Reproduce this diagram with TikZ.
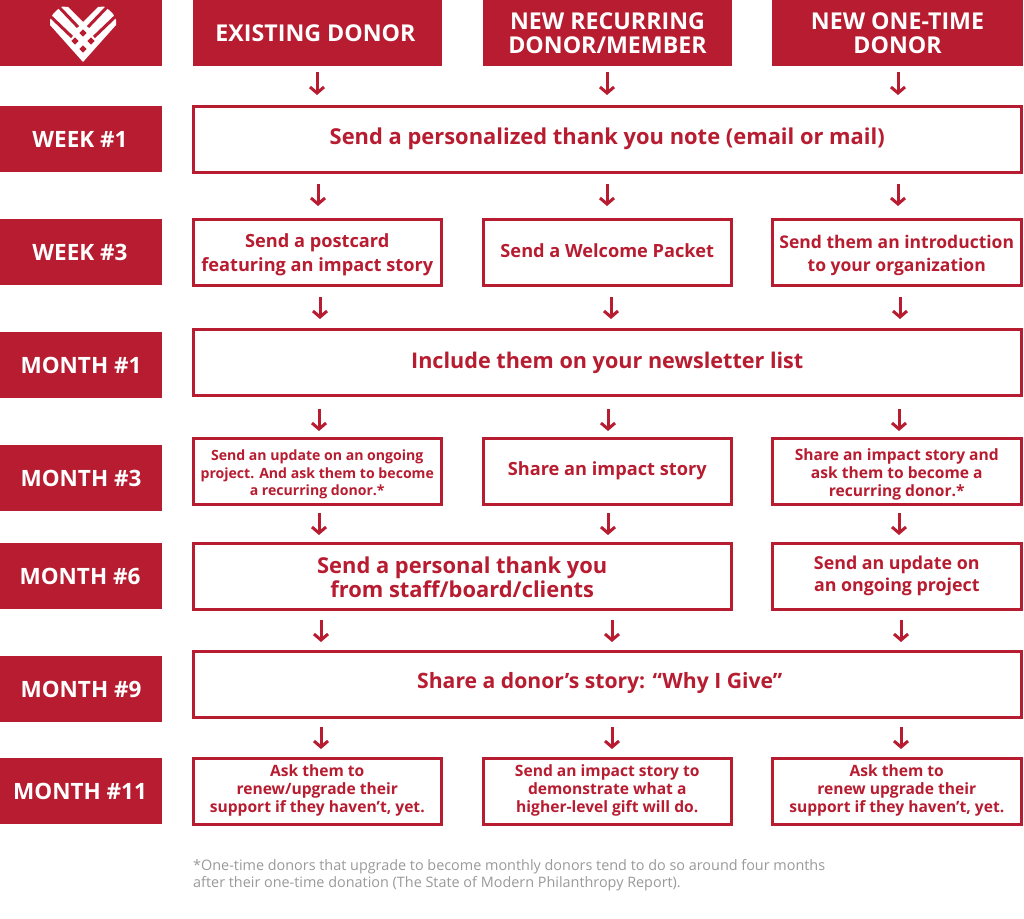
\documentclass[tikz,border=0pt]{standalone}
\usepackage{fontspec}
\setmainfont{Open Sans}
\usetikzlibrary{arrows.meta,calc}
\definecolor{gbred}{HTML}{B71C30}
\definecolor{foot}{HTML}{9A9A9A}
\tikzset{
  x=1pt,y=-1pt,
  band/.style={fill=gbred,draw=none,inner sep=0,outer sep=0,text=white,font=\fontsize{22.5}{23}\selectfont\bfseries,align=center},
  stepbox/.style={draw=none,inner sep=0,outer sep=0,text=gbred,align=center},
  frame/.style={draw=gbred,line width=3pt,fill=white},
  big/.style={font=\fontsize{21.9}{24}\selectfont\bfseries},
  bigb/.style={font=\fontsize{21.6}{24}\selectfont\bfseries},
  bigc/.style={font=\fontsize{21.15}{24}\selectfont\bfseries},
  mid/.style={font=\fontsize{18.2}{23.5}\selectfont\bfseries},
  midtight/.style={font=\fontsize{17.5}{23}\selectfont\bfseries},
  midshort/.style={font=\fontsize{17.8}{21.5}\selectfont\bfseries},
  small/.style={font=\fontsize{15.6}{18}\selectfont\bfseries},
  tiny/.style={font=\fontsize{14.1}{17.8}\selectfont\bfseries},
  arr/.style={draw=gbred,line width=3pt,-{Straight Barb[length=6pt,width=14pt,line width=3pt]}},
  gap/.style={draw=gbred,line width=3pt},
  dia/.style={fill=gbred,draw=none},
}
\newcommand{\bandbox}[6]{\node[band,minimum width=#3-#1,minimum height=#4-#2,anchor=north west] (#5) at (#1,#2) {#6};}
% outer rectangle and, over it, a text node with its own offset
\newcommand{\outbox}[8]{\node[frame,minimum width=#3-#1,minimum height=#4-#2,inner sep=0,outer sep=0,anchor=north west] (#5) at (#1,#2) {};
  \node[stepbox,#7] (#5t) at ([shift={#8}]#5.center) {#6};}
\newcommand{\arrowdown}[4]{\coordinate (#4s) at (#1,#2);\coordinate (#4e) at (#1,#3);\draw[arr] (#4s) -- (#4e);}
\newcommand{\lozenge}[2]{\fill[dia] (#1,#2-3.6) -- (#1+3.6,#2) -- (#1,#2+3.6) -- (#1-3.6,#2) -- cycle;}
\begin{document}
\begin{tikzpicture}
\useasboundingbox (0,0) rectangle (1024,918);
\fill[white] (0,0) rectangle (1024,918);
% left column
\bandbox{0}{0}{162}{66}{logo}{}
\bandbox{0}{106}{162}{172}{w1}{\hspace*{-2pt}\raisebox{-5.5pt}{WEEK \#1}}
\bandbox{0}{219}{162}{285}{w3}{\hspace*{-2pt}\raisebox{-5.5pt}{WEEK \#3}}
\bandbox{0}{332}{162}{398}{m1}{\raisebox{-5.5pt}{MONTH \#1}}
\bandbox{0}{445}{162}{511}{m3}{\raisebox{-5.5pt}{MONTH \#3}}
\bandbox{0}{543}{162}{609}{m6}{\hspace*{-2pt}\raisebox{-5.5pt}{MONTH \#6}}
\bandbox{0}{656}{162}{722}{m9}{\raisebox{-5.5pt}{MONTH \#9}}
\bandbox{0}{758}{162}{824}{m11}{\hspace*{-2pt}\raisebox{-5.5pt}{MONTH \#11}}
% heart
\fill[white] (83,62) -- (50,25) -- (50,20) -- (53,14) -- (57,10) -- (62,6.5) -- (68,7) -- (83,22) -- (98,7) -- (104,6.5) -- (109,10) -- (113,14) -- (116,20) -- (116,25) -- cycle;
\draw[gap] (49,15) -- (72,37);
\draw[gap] (58,6) -- (78,27);
\draw[gap] (117,15) -- (94,37);
\draw[gap] (108,6) -- (88,27);
\lozenge{83}{33}\lozenge{75}{41}\lozenge{91}{41}\lozenge{83}{49}
% header
\bandbox{193}{0}{442}{66}{h1}{\fontsize{23.2}{23}\selectfont\hspace*{-4pt}EXISTING DONOR}
\bandbox{483}{0}{732}{66}{h2}{\fontsize{23.2}{23}\selectfont\raisebox{-3pt}{\shortstack{NEW RECURRING\\[3.5pt]DONOR/MEMBER}}}
\bandbox{772}{0}{1023}{66}{h3}{\fontsize{23.2}{23}\selectfont\raisebox{-3pt}{\shortstack{NEW ONE-TIME\\[3.5pt]DONOR}}}
% boxes
\outbox{193}{106}{1021.5}{172}{b1}{Send a personalized thank you note (email or mail)}{big}{(0,0)}
\outbox{193}{219}{441.5}{285}{b21}{Send a postcard\\featuring an impact story}{mid}{(0,3)}
\outbox{483}{219}{731.5}{285}{b22}{Send a Welcome Packet}{mid}{(0,-1)}
\outbox{772}{219}{1021.5}{285}{b23}{Send them an introduction\\to your organization}{midtight}{(0,3.5)}
\outbox{193}{329}{1021.5}{395}{b3}{Include them on your newsletter list}{bigb}{(0,1)}
\outbox{193}{438}{441.5}{504}{b41}{Send an update on an ongoing\\project. And ask them to become\\a recurring donor.*}{tiny}{(0,3.5)}
\outbox{483}{438}{731.5}{504}{b42}{Share an impact story}{mid}{(0,0)}
\outbox{772}{438}{1021.5}{504}{b43}{Share an impact story and\\ask them to become a\\recurring donor.*}{small}{(0,3.5)}
\outbox{193}{543}{731.5}{609}{b51}{Send a personal thank you\\from staff/board/clients}{big}{(0,1)}
\outbox{772}{543}{1021.5}{609}{b53}{Send an update on\\an ongoing project}{midshort}{(0,0)}
\outbox{193}{651}{1021.5}{717}{b6}{Share a donor’s story: “Why I Give”}{bigc}{(-7.5,-1)}
\outbox{193}{758}{441.5}{824}{b71}{Ask them to\\renew/upgrade their\\support if they haven’t, yet.}{small}{(0,-1)}
\outbox{483}{758}{731.5}{824}{b72}{Send an impact story to\\demonstrate what a\\higher-level gift will do.}{small}{(0,-1)}
\outbox{772}{758}{1021.5}{824}{b73}{Ask them to\\renew upgrade their\\support if they haven’t, yet.}{small}{(0,-1)}
% arrows
\arrowdown{317}{72}{95}{a1}\arrowdown{607}{72}{95}{a2}\arrowdown{898}{72}{95}{a3}
\arrowdown{318}{184}{206}{a4}\arrowdown{607}{184}{206}{a5}\arrowdown{898}{184}{206}{a6}
\arrowdown{320}{297}{319}{a7}\arrowdown{611}{297}{319}{a8}\arrowdown{900}{297}{319}{a9}
\arrowdown{319}{409}{431}{a10}\arrowdown{608}{409}{431}{a11}\arrowdown{899}{409}{431}{a12}
\arrowdown{319}{513}{535}{a13}\arrowdown{608}{513}{535}{a14}\arrowdown{899}{513}{535}{a15}
\arrowdown{321}{620}{642}{a16}\arrowdown{612}{620}{642}{a17}\arrowdown{901}{620}{642}{a18}
\arrowdown{321}{727}{749}{a19}\arrowdown{612}{727}{749}{a20}\arrowdown{901}{727}{749}{a21}
\node[anchor=north west,inner sep=0,text=foot,align=left,font=\fontsize{14.4}{17.5}\selectfont] (fn) at (193,859) {*One-time donors that upgrade to become monthly donors tend to do so around four months\\after their one-time donation (The State of Modern Philanthropy Report).};
\end{tikzpicture}
\end{document}
